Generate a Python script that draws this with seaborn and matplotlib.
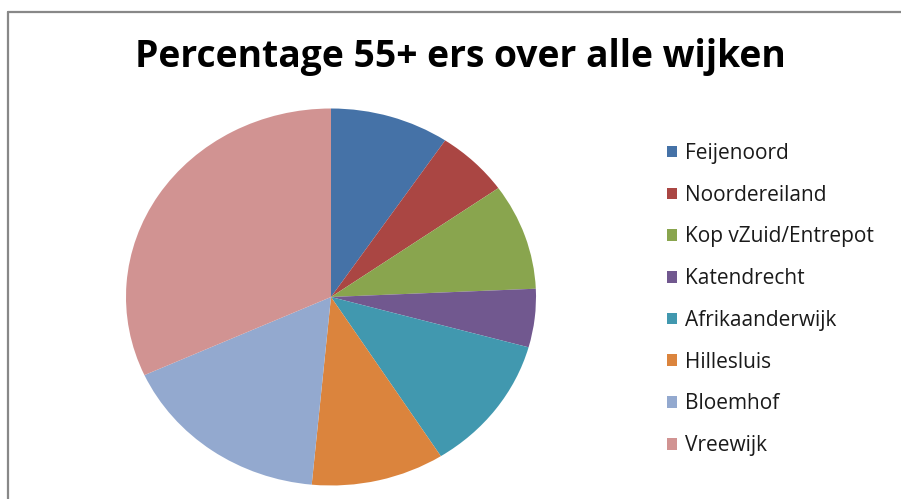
import matplotlib
matplotlib.use("Agg")
import matplotlib.pyplot as plt
import seaborn as sns
from matplotlib.lines import Line2D

wijken = ["Feijenoord", "Noordereiland", "Kop vZuid/Entrepot", "Katendrecht",
          "Afrikaanderwijk", "Hillesluis", "Bloemhof", "Vreewijk"]
percentages = [9.4, 5.8, 9.1, 5.0, 11.7, 10.5, 16.7, 31.8]
kleuren = ["#4572A7", "#AA4643", "#89A54E", "#71588F",
           "#4198AF", "#DB843D", "#93A9CF", "#D19392"]
titel = "Percentage 55+ ers over alle wijken"

sns.set_theme(style="white")
plt.rcParams["font.family"] = ["Open Sans", "DejaVu Sans"]
palette = sns.color_palette(kleuren)

W, H = 901, 499
fig = plt.figure(figsize=(W / 100, H / 100), dpi=100)
fig.patch.set_facecolor("white")

# pie axes: centre (331, 297), radii 205 x 188 px
cx, cy, rx, ry = 331, 297, 205, 188.5
ax = fig.add_axes([(cx - rx) / W, 1 - (cy + ry) / H, 2 * rx / W, 2 * ry / H])
wedges, _ = ax.pie(percentages, colors=palette, startangle=90, counterclock=False,
                   wedgeprops=dict(linewidth=0, antialiased=True))
for w in wedges:
    w.set_clip_on(False)
ax.set_aspect("auto")
ax.set_xlim(-1, 1)
ax.set_ylim(-1, 1)
ax.axis("off")

fig.text(460 / W, 1 - 57 / H, titel, ha="center", va="center",
         fontsize=26.8, fontweight="bold", color="black")

leg = fig.legend(wedges, wijken, loc="upper left",
                 bbox_to_anchor=(667 / W, 1 - 143 / H), frameon=False,
                 fontsize=15, handlelength=0.48, handleheight=0.48,
                 handletextpad=0.4, labelspacing=0.995, borderpad=0,
                 borderaxespad=0)
for t in leg.get_texts():
    t.set_color("#1a1a1a")

# chart frame (gray border at left and top)
fig.add_artist(Line2D([8 / W, 8 / W], [0, 1 - 12 / H], transform=fig.transFigure,
                      color="#888888", linewidth=1.6))
fig.add_artist(Line2D([8 / W, 1], [1 - 12 / H, 1 - 12 / H], transform=fig.transFigure,
                      color="#888888", linewidth=1.6))

fig.savefig("out.png", dpi=100, facecolor="white")
